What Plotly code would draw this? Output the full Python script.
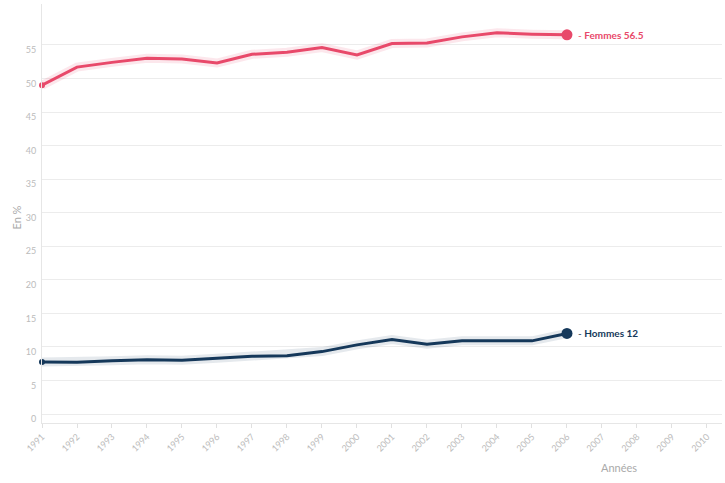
import plotly.graph_objects as go

years = list(range(1991, 2007))
femmes = [49.0, 51.7, 52.4, 53.0, 52.9, 52.3, 53.6, 53.9, 54.6, 53.5, 55.2, 55.3, 56.2, 56.8, 56.6, 56.5]
hommes = [7.75, 7.7, 7.95, 8.1, 8.0, 8.3, 8.6, 8.7, 9.3, 10.3, 11.1, 10.4, 10.9, 10.9, 10.9, 12.0]
series = [("Femmes", femmes, "#e8496a", "rgba(232,73,106,0.13)"),
          ("Hommes", hommes, "#15385a", "rgba(21,56,90,0.11)")]
x_ticks = list(range(1991, 2011))
y_ticks = list(range(0, 60, 5))

fig = go.Figure()
for name, vals, col, halo in series:
    fig.add_trace(go.Scatter(x=years, y=vals, mode="lines", cliponaxis=False,
                             line=dict(color=halo, width=9), hoverinfo="skip", showlegend=False))
    fig.add_trace(go.Scatter(x=years, y=vals, mode="lines", cliponaxis=False,
                             line=dict(color=col, width=3), name=name, showlegend=False))
    fig.add_trace(go.Scatter(x=[years[0]], y=[vals[0]], mode="markers", cliponaxis=False,
                             marker=dict(color=col, size=6), showlegend=False, hoverinfo="skip"))
    fig.add_trace(go.Scatter(x=[years[-1]], y=[vals[-1]], mode="markers", cliponaxis=False,
                             marker=dict(color=col, size=11), showlegend=False, hoverinfo="skip"))
    val = vals[-1]
    vtxt = f"{val:g}"
    fig.add_annotation(x=years[-1], y=val, xref="x", yref="y", xanchor="left", yanchor="middle",
                       xshift=9, showarrow=False,
                       text=f"- <b>{name} {vtxt}</b>",
                       font=dict(family="Lato", size=10, color=col))

fig.add_annotation(x=2007.5, y=-0.085, xref="x", yref="paper", xanchor="center", yanchor="top",
                   showarrow=False, text="Années",
                   font=dict(family="Lato", size=11, color="#aaaaaa"))
fig.add_annotation(x=-0.037, y=0.49, xref="paper", yref="paper", xanchor="center", yanchor="middle",
                   showarrow=False, text="En %", textangle=-90,
                   font=dict(family="Lato", size=11, color="#aaaaaa"))

fig.update_layout(
    width=725, height=483,
    margin=dict(l=42, r=3, t=4, b=60, autoexpand=False),
    plot_bgcolor="white", paper_bgcolor="white",
    font=dict(family="Lato", size=9, color="#bbbbbb"),
    xaxis=dict(range=[1991, 2010.43], tickvals=x_ticks, ticktext=[str(t) for t in x_ticks],
               tickangle=-45, showgrid=False, zeroline=False, automargin=False,
               showline=True, linecolor="#e6e6e6", linewidth=1,
               ticks="outside", ticklen=4, tickcolor="#e0e0e0",
               tickfont=dict(family="Lato", size=9, color="#bbbbbb")),
    yaxis=dict(range=[-1.34, 61.1], tickvals=y_ticks, showgrid=True, gridcolor="#ececec",
               zeroline=False, showline=True, linecolor="#e6e6e6", linewidth=1, automargin=False,
               ticks="", ticklabelshift=5, ticklabelstandoff=3,
               tickfont=dict(family="Lato", size=9, color="#bbbbbb")),
)

fig.write_html("out.html", config={"displayModeBar": False},
               post_script="document.body.style.margin='0px';document.body.style.overflow='hidden';")
